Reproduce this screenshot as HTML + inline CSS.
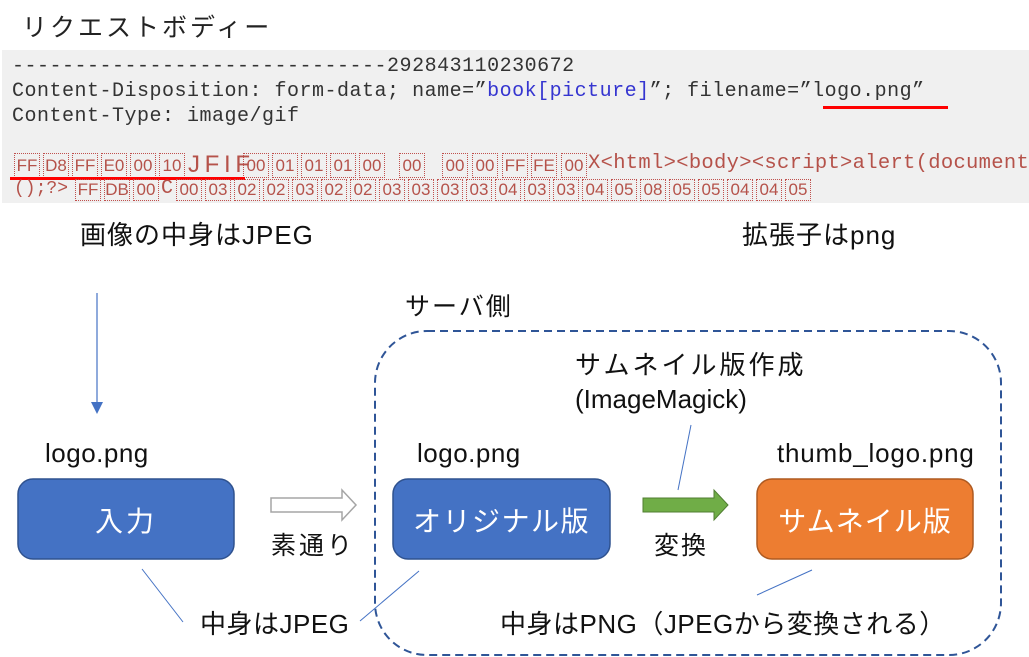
<!DOCTYPE html>
<html><head><meta charset="utf-8">
<style>
body{margin:0;width:1029px;height:657px;background:#fff;position:relative;overflow:hidden;font-family:"Liberation Sans","Noto Sans CJK JP",sans-serif;}
.a{position:absolute;white-space:nowrap;}
.mono{font-family:"Liberation Mono","Noto Sans CJK JP",monospace;font-size:20px;letter-spacing:0.5px;color:#333;line-height:25px;}
.hx{position:absolute;width:24px;height:23px;border:1px dotted #c0504d;color:#b5524a;font-family:"Liberation Sans",sans-serif;font-size:17px;line-height:23px;text-align:center;}
.hx2{height:20px;line-height:20px;}
.rt{color:#b5524a;font-family:"Liberation Mono",monospace;font-size:21px;letter-spacing:0.1px;}
.t{font-size:25px;color:#111;}
</style></head><body>
<div class="a" style="left:22px;top:8px;font-size:25px;letter-spacing:3px;color:#222;">リクエストボディー</div>
<div class="a" style="left:2px;top:50px;width:1027px;height:153px;background:#f0f0f0;"></div>
<div class="a mono" style="left:12px;top:54px;">------------------------------292843110230672</div>
<div class="a mono" style="left:12px;top:79px;">Content-Disposition: form-data; name=”<span style="color:#3535d0">book[picture]</span>”; filename=”logo.png”</div>
<div class="a mono" style="left:12px;top:104px;">Content-Type: image/gif</div>
<div class="a" style="left:823px;top:106px;width:125px;height:3px;background:#f00;"></div>

<div class="hx" style="left:14px;top:153px">FF</div>
<div class="hx" style="left:43px;top:153px">D8</div>
<div class="hx" style="left:72px;top:153px">FF</div>
<div class="hx" style="left:101px;top:153px">E0</div>
<div class="hx" style="left:130px;top:153px">00</div>
<div class="hx" style="left:159px;top:153px">10</div>
<div class="a rt" style="left:188px;top:151px;font-size:24px;letter-spacing:-1px;font-family:'Liberation Sans',sans-serif;">J F I F</div>
<div class="hx" style="left:243px;top:153px">00</div>
<div class="hx" style="left:272px;top:153px">01</div>
<div class="hx" style="left:301px;top:153px">01</div>
<div class="hx" style="left:330px;top:153px">01</div>
<div class="hx" style="left:359px;top:153px">00</div>
<div class="hx" style="left:399px;top:153px">00</div>
<div class="hx" style="left:442px;top:153px">00</div>
<div class="hx" style="left:472px;top:153px">00</div>
<div class="hx" style="left:502px;top:153px">FF</div>
<div class="hx" style="left:531px;top:153px">FE</div>
<div class="hx" style="left:561px;top:153px">00</div>
<div class="a rt" style="left:588px;top:152px;font-size:20.5px;letter-spacing:0.3px;">X&lt;html&gt;&lt;body&gt;&lt;script&gt;alert(document</div>
<div class="a" style="left:10px;top:177px;width:235px;height:3px;background:#f00;"></div>

<div class="a rt" style="left:14px;top:179px;font-size:18px;line-height:20px;letter-spacing:0px;">();?&gt;</div>
<div class="hx hx2" style="left:75px;top:179px">FF</div>
<div class="hx hx2" style="left:104px;top:179px">DB</div>
<div class="hx hx2" style="left:133px;top:179px">00</div>
<div class="a rt" style="left:161px;top:178px;font-size:20px;line-height:22px;">C</div>
<div class="hx hx2" style="left:176px;top:179px">00</div>
<div class="hx hx2" style="left:205px;top:179px">03</div>
<div class="hx hx2" style="left:234px;top:179px">02</div>
<div class="hx hx2" style="left:263px;top:179px">02</div>
<div class="hx hx2" style="left:292px;top:179px">03</div>
<div class="hx hx2" style="left:321px;top:179px">02</div>
<div class="hx hx2" style="left:350px;top:179px">02</div>
<div class="hx hx2" style="left:379px;top:179px">03</div>
<div class="hx hx2" style="left:408px;top:179px">03</div>
<div class="hx hx2" style="left:437px;top:179px">03</div>
<div class="hx hx2" style="left:466px;top:179px">03</div>
<div class="hx hx2" style="left:495px;top:179px">04</div>
<div class="hx hx2" style="left:524px;top:179px">03</div>
<div class="hx hx2" style="left:553px;top:179px">03</div>
<div class="hx hx2" style="left:582px;top:179px">04</div>
<div class="hx hx2" style="left:611px;top:179px">05</div>
<div class="hx hx2" style="left:640px;top:179px">08</div>
<div class="hx hx2" style="left:669px;top:179px">05</div>
<div class="hx hx2" style="left:698px;top:179px">05</div>
<div class="hx hx2" style="left:727px;top:179px">04</div>
<div class="hx hx2" style="left:756px;top:179px">04</div>
<div class="hx hx2" style="left:785px;top:179px">05</div>
<div class="a" style="left:0;top:203px;width:1029px;height:8px;background:#fff;"></div>

<svg class="a" style="left:0;top:0" width="1029" height="657">
<line x1="97" y1="293" x2="97" y2="403" stroke="#4472C4" stroke-width="1.2"/>
<polygon points="91,402 103,402 97,414" fill="#4472C4"/>
<rect x="375" y="331" width="626" height="324" rx="52" fill="none" stroke="#2F5597" stroke-width="2" stroke-dasharray="8,5"/>
<rect x="18" y="479" width="216" height="80" rx="15" fill="#4472C4" stroke="#2F528F" stroke-width="1.5"/>
<rect x="393" y="479" width="217" height="80" rx="15" fill="#4472C4" stroke="#2F528F" stroke-width="1.5"/>
<rect x="757" y="479" width="216" height="80" rx="15" fill="#ED7D31" stroke="#AE5A21" stroke-width="1.5"/>
<polygon points="271,498 342,498 342,490 356,505 342,520 342,512 271,512" fill="#fff" stroke="#a5a5a5" stroke-width="1.5"/>
<polygon points="643,498 714,498 714,490 728,505 714,520 714,512 643,512" fill="#70AD47" stroke="#507E32" stroke-width="1"/>
<g stroke="#4472C4" stroke-width="1">
<line x1="691" y1="425" x2="678" y2="490"/>
<line x1="142" y1="569" x2="183" y2="622"/>
<line x1="419" y1="571" x2="360" y2="621"/>
<line x1="812" y1="570" x2="757" y2="595"/>
</g>
</svg>

<div class="a t" style="left:80px;top:215px;font-size:26px;letter-spacing:1px;">画像の中身はJPEG</div>
<div class="a t" style="left:742px;top:215px;font-size:26px;letter-spacing:1px;">拡張子はpng</div>
<div class="a t" style="left:405px;top:287px;letter-spacing:2px;">サーバ側</div>
<div class="a t" style="left:575px;top:345px;font-size:26px;letter-spacing:3px;">サムネイル版作成</div>
<div class="a t" style="left:575px;top:384px;font-size:26px;">(ImageMagick)</div>
<div class="a t" style="left:45px;top:438px;font-size:26px;letter-spacing:0.5px;">logo.png</div>
<div class="a t" style="left:417px;top:438px;font-size:26px;letter-spacing:0.5px;">logo.png</div>
<div class="a t" style="left:777px;top:438px;font-size:26px;letter-spacing:0.8px;">thumb_logo.png</div>
<div class="a t" style="left:18px;top:500px;width:216px;text-align:center;color:#fff;font-size:28px;letter-spacing:3px;">入力</div>
<div class="a t" style="left:393px;top:500px;width:217px;text-align:center;color:#fff;font-size:28px;letter-spacing:1.5px;">オリジナル版</div>
<div class="a t" style="left:757px;top:500px;width:216px;text-align:center;color:#fff;font-size:28px;letter-spacing:1px;">サムネイル版</div>
<div class="a t" style="left:271px;top:526px;letter-spacing:3px;">素通り</div>
<div class="a t" style="left:654px;top:526px;letter-spacing:2px;">変換</div>
<div class="a t" style="left:200px;top:604px;font-size:26px;letter-spacing:0.5px;">中身はJPEG</div>
<div class="a t" style="left:500px;top:604px;font-size:26px;letter-spacing:0.5px;">中身はPNG（JPEGから変換される）</div>
</body></html>
